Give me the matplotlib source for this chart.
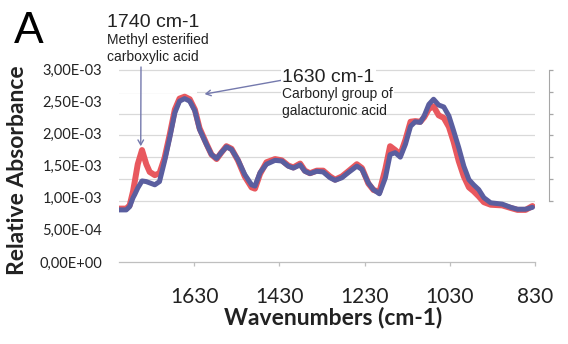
import numpy as np
import matplotlib
matplotlib.use("Agg")
import matplotlib.pyplot as plt
from matplotlib.ticker import FuncFormatter
from matplotlib.patches import Rectangle

# FTIR spectra (absorbance in units of 1e-3)
wavenumbers = [1808, 1789, 1781, 1773, 1769, 1762, 1752, 1742, 1734, 1722,
               1711, 1699, 1687, 1675, 1664, 1652, 1640, 1628, 1617, 1601,
               1589, 1577, 1566, 1554, 1542, 1527, 1511, 1495, 1487, 1475,
               1460, 1440, 1424, 1409, 1397, 1381, 1370, 1358, 1342, 1327,
               1311, 1299, 1283, 1268, 1248, 1236, 1221, 1209, 1195, 1181,
               1170, 1158, 1146, 1134, 1122, 1111, 1099, 1090, 1079, 1068,
               1056, 1044, 1032, 1021, 1009, 997, 985, 974, 962, 950,
               934, 907, 887, 871, 852, 836]

spectrum_red = [0.83, 0.83, 0.88, 1.10, 1.25, 1.52, 1.74, 1.52, 1.40, 1.35,
                1.38, 1.62, 1.98, 2.37, 2.54, 2.57, 2.53, 2.37, 2.08, 1.84,
                1.67, 1.60, 1.70, 1.80, 1.76, 1.58, 1.33, 1.16, 1.14, 1.37,
                1.55, 1.60, 1.58, 1.50, 1.47, 1.53, 1.42, 1.38, 1.42, 1.42,
                1.33, 1.28, 1.33, 1.41, 1.52, 1.46, 1.22, 1.12, 1.09, 1.45,
                1.80, 1.74, 1.67, 1.90, 2.18, 2.19, 2.18, 2.25, 2.38, 2.42,
                2.28, 2.24, 2.10, 1.87, 1.57, 1.33, 1.16, 1.10, 1.02, 0.93,
                0.89, 0.88, 0.84, 0.81, 0.81, 0.87]

spectrum_blue = [0.81, 0.81, 0.86, 1.00, 1.05, 1.15, 1.26, 1.25, 1.23, 1.20,
                 1.25, 1.57, 1.93, 2.32, 2.50, 2.54, 2.50, 2.35, 2.06, 1.83,
                 1.67, 1.61, 1.70, 1.79, 1.75, 1.59, 1.36, 1.20, 1.18, 1.39,
                 1.52, 1.58, 1.57, 1.49, 1.46, 1.51, 1.41, 1.375, 1.41, 1.40,
                 1.31, 1.27, 1.31, 1.39, 1.49, 1.44, 1.23, 1.125, 1.06, 1.31,
                 1.67, 1.70, 1.63, 1.83, 2.11, 2.18, 2.17, 2.27, 2.45, 2.53,
                 2.44, 2.41, 2.27, 2.04, 1.78, 1.49, 1.28, 1.20, 1.125, 1.00,
                 0.92, 0.90, 0.85, 0.82, 0.82, 0.85]

x_ticks = [1630, 1430, 1230, 1030, 830]
y_ticks = [0, 5e-4, 1e-3, 1.5e-3, 2e-3, 2.5e-3, 3e-3]
secondary_ticks = [0, 1, 2, 3, 4, 5, 6]

W, H = 568, 344
fig = plt.figure(figsize=(W / 100, H / 100), dpi=100)
ax = fig.add_axes([119 / W, (H - 262) / H, 416 / W, 193 / H])

# secondary axis: only carries the grid and the bracket on the right
ax2 = ax.twinx()
ax2.set_ylim(-61 / 22, 6.03)
ax2.set_yticks(secondary_ticks)
ax2.set_yticklabels([])
ax2.grid(axis="y", color="#D9D9D9", lw=0.9)
for s in ["top", "left", "bottom"]:
    ax2.spines[s].set_visible(False)
ax2.spines["right"].set_position(("outward", 10))
ax2.spines["right"].set_bounds(0, 6)
ax2.spines["right"].set_color("#A6A6A6")
ax2.tick_params(axis="y", direction="out", length=3, color="#A6A6A6", width=0.9)

ax.set_zorder(ax2.get_zorder() + 1)
ax.patch.set_visible(False)

# white backing of the 1740 note hides part of the second grid line
ax.add_patch(Rectangle((0, 0.875), 0.187, 0.03, transform=ax.transAxes,
                       facecolor="white", edgecolor="none", zorder=0.5))

scale = 1e-3
ax.plot(wavenumbers, np.array(spectrum_red) * scale, color="#E8585E", lw=4.3,
        solid_joinstyle="round", solid_capstyle="round")
ax.plot(wavenumbers, np.array(spectrum_blue) * scale, color="#5A5E9F", lw=3.6,
        solid_joinstyle="round", solid_capstyle="round")

ax.set_xlim(1806, 830)
ax.set_ylim(0, 3e-3)
ax.set_xticks(x_ticks)
ax.set_yticks(y_ticks)
ax.yaxis.set_major_formatter(FuncFormatter(lambda v, p: f"{v:.2E}".replace(".", ",")))

for s in ["top", "left", "right"]:
    ax.spines[s].set_visible(False)
ax.spines["bottom"].set_color("#BFBFBF")
ax.spines["bottom"].set_linewidth(0.9)
ax.tick_params(axis="x", direction="out", length=3, color="#BFBFBF", width=0.9,
               pad=15, labelsize=15)
ax.tick_params(axis="y", length=0, pad=12, labelsize=10.5)
for lbl in ax.get_xticklabels() + ax.get_yticklabels():
    lbl.set_family("Lato")
    lbl.set_color("#222222")

ax.set_xlabel("Wavenumbers (cm-1)", family="Lato", fontweight="bold",
              fontsize=16.5, va="center", color="#222222")
ax.xaxis.set_label_coords((333 - 119) / 416, (262 - 317) / 193)
ax.set_ylabel("Relative Absorbance", family="Lato", fontweight="bold",
              fontsize=16.5, va="center", color="#222222")
ax.yaxis.set_label_coords((18 - 119) / 416, (262 - 170) / 193)

# annotations
def fy(y):
    return 1 - y / H

fig.text(14 / W, fy(43), "A", family="Liberation Sans", fontsize=32, va="baseline")
fig.text(107 / W, fy(27), "1740 cm-1", family="Liberation Sans", fontsize=14,
         va="baseline", color="#222222")
fig.text(107 / W, fy(44), "Methyl esterified", family="Liberation Sans",
         fontsize=10, va="baseline", color="#222222")
fig.text(107 / W, fy(61), "carboxylic acid", family="Liberation Sans",
         fontsize=10, va="baseline", color="#222222")

box = dict(facecolor="white", edgecolor="none", pad=1)
fig.text(282 / W, fy(82), "1630 cm-1", family="Liberation Sans", fontsize=14,
         va="baseline", color="#222222", bbox=box)
fig.text(282 / W, fy(98), "Carbonyl group of", family="Liberation Sans",
         fontsize=10, va="baseline", color="#222222", bbox=box)
fig.text(282 / W, fy(115), "galacturonic acid", family="Liberation Sans",
         fontsize=10, va="baseline", color="#222222")

arrow = dict(arrowstyle="->,head_length=0.35,head_width=0.2", color="#7479AD",
             lw=1, shrinkA=0, shrinkB=0)
ax.annotate("", xy=(1755, 1.80e-3), xytext=(141, H - 67),
            textcoords="figure pixels", arrowprops=arrow, annotation_clip=False)
ax.annotate("", xy=(1605, 2.61e-3), xytext=(283, H - 80),
            textcoords="figure pixels", arrowprops=arrow, annotation_clip=False)

fig.savefig("out.png", dpi=100)
